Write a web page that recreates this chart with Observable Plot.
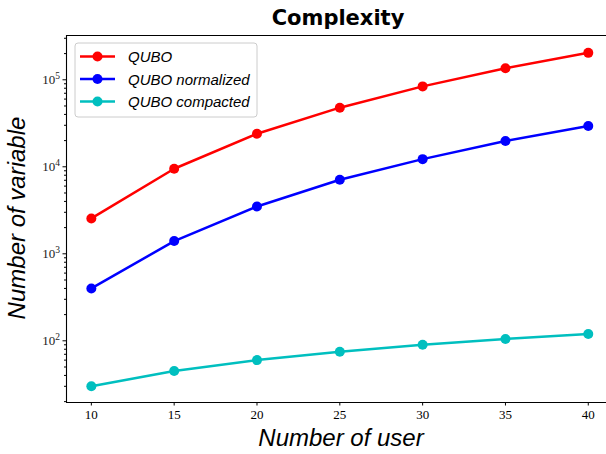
<!DOCTYPE html>
<html>
<head>
<meta charset="utf-8">
<script src="https://cdn.jsdelivr.net/npm/d3@7"></script>
<script src="https://cdn.jsdelivr.net/npm/@observablehq/plot@0.6"></script>
<style>
  html, body { margin: 0; padding: 0; background: #fff; }
  #chart { width: 606px; height: 454px; }
</style>
</head>
<body>
<div id="chart"></div>
<script>
// ---- data ----
const users = [10, 15, 20, 25, 30, 35, 40];
const qubo = [2550, 9500, 24000, 47800, 84000, 136000, 204000];
const quboNormalized = [400, 1400, 3500, 7100, 12250, 19800, 29500];
const quboCompacted = [30, 45, 60, 75, 90, 105, 120];
const seriesNames = ["QUBO", "QUBO normalized", "QUBO compacted"];
const seriesColors = ["#ff0000", "#0000ff", "#00bfbf"];
const xTicks = [10, 15, 20, 25, 30, 35, 40];
const yMajorTicks = [100, 1000, 10000, 100000];
const yTickExponents = ["2", "3", "4", "5"];
const titleText = "Complexity";
const xLabel = "Number of user";
const yLabel = "Number of variable";

const allSeries = [qubo, quboNormalized, quboCompacted];
const rows = [];
allSeries.forEach((vals, si) => {
  vals.forEach((v, i) => rows.push({series: seriesNames[si], x: users[i], y: v}));
});

const yDomain = [Math.pow(10, 1.291), Math.pow(10, 5.509)];
const xDomain = [8.5, 41.1];
const yMinor = [];
for (let k = 1; k <= 5; k++) {
  for (let m = 2; m <= 9; m++) {
    const v = m * Math.pow(10, k);
    if (v >= yDomain[0] && v <= yDomain[1]) yMinor.push(v);
  }
}

const W = 606, H = 454;
const tickFont = "Liberation Serif, DejaVu Serif, serif";
const sansItalic = "Liberation Sans, Arial, sans-serif";

const marks = [
  Plot.line(rows, {x: "x", y: "y", z: "series", stroke: "series", strokeWidth: 2.5}),
  Plot.dot(rows, {x: "x", y: "y", fill: "series", r: 5, stroke: "none"}),
  // frame: left, top, bottom (right border falls outside the cropped image)
  Plot.ruleX([xDomain[0]], {stroke: "black", strokeWidth: 1.1}),
  Plot.ruleY([yDomain[0]], {stroke: "black", strokeWidth: 1.1}),
  Plot.ruleY([yDomain[1]], {stroke: "black", strokeWidth: 1.1}),
  Plot.axisX(xTicks, {tickSize: 3.5, tickPadding: 4, fontSize: 13, fontFamily: tickFont, tickFormat: d => String(d), label: null}),
  Plot.axisY(yMajorTicks, {tickSize: 3.5, text: null, label: null}),
  Plot.axisY(yMinor, {tickSize: 2, text: null, label: null})
];

const plot = Plot.plot({
  width: W,
  height: H,
  marginLeft: 66,
  marginRight: 0,
  marginTop: 35,
  marginBottom: 52,
  style: {background: "#fff", overflow: "hidden"},
  x: {domain: xDomain, axis: null},
  y: {type: "log", domain: yDomain, axis: null},
  color: {domain: seriesNames, range: seriesColors},
  marks
});
document.getElementById("chart").appendChild(plot);

const svg = d3.select(plot);
const yScale = plot.scale("y");
// y tick labels with superscript exponents, positioned with Plot's y scale
yMajorTicks.forEach((v, i) => {
  const t = svg.append("text").attr("x", 60).attr("y", yScale.apply(v) + 4.5)
    .attr("text-anchor", "end").attr("font-family", tickFont)
    .attr("font-size", 13).attr("fill", "#222");
  t.append("tspan").text("10");
  t.append("tspan").attr("dy", -5).attr("font-size", 9.5).text(yTickExponents[i]);
});
// title
svg.append("text").attr("x", 338).attr("y", 25).attr("text-anchor", "middle")
  .attr("font-family", "DejaVu Sans, sans-serif").attr("font-weight", "bold")
  .attr("font-size", 21).attr("fill", "black").text(titleText);
// axis labels
svg.append("text").attr("x", 341).attr("y", 446).attr("text-anchor", "middle")
  .attr("font-family", sansItalic).attr("font-style", "italic")
  .attr("font-size", 24).attr("fill", "black").text(xLabel);
svg.append("text").attr("transform", "translate(25,218) rotate(-90)").attr("text-anchor", "middle")
  .attr("font-family", sansItalic).attr("font-style", "italic")
  .attr("font-size", 24).attr("fill", "black").text(yLabel);
// legend
const lg = svg.append("g");
lg.append("rect").attr("x", 75).attr("y", 43).attr("width", 182).attr("height", 74)
  .attr("rx", 3).attr("fill", "white").attr("fill-opacity", 0.8)
  .attr("stroke", "#cccccc").attr("stroke-width", 1);
const rowY = [56.5, 79, 101.5];
seriesNames.forEach((name, i) => {
  lg.append("line").attr("x1", 80).attr("x2", 115).attr("y1", rowY[i]).attr("y2", rowY[i])
    .attr("stroke", seriesColors[i]).attr("stroke-width", 2.5);
  lg.append("circle").attr("cx", 97.5).attr("cy", rowY[i]).attr("r", 5).attr("fill", seriesColors[i]);
  lg.append("text").attr("x", 128).attr("y", rowY[i] + 5.5).attr("text-anchor", "start")
    .attr("font-family", sansItalic).attr("font-style", "italic")
    .attr("font-size", 15).attr("fill", "black").text(name);
});
</script>
</body>
</html>
